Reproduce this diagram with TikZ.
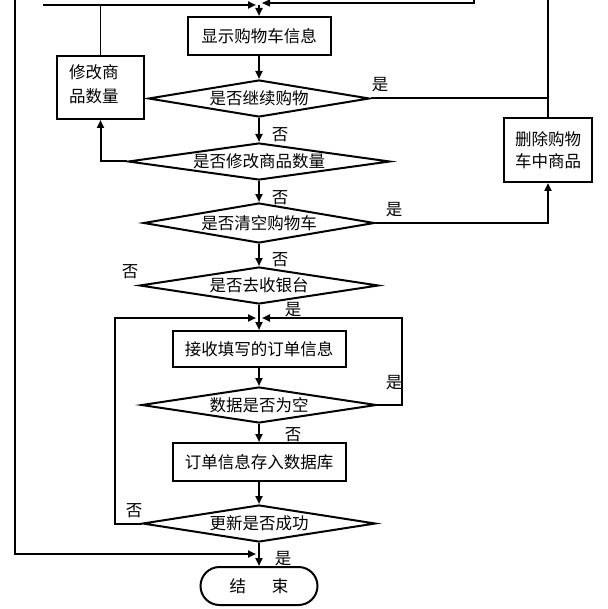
\documentclass[tikz,border=0pt]{standalone}
\usepackage{fontspec}
\setmainfont{Noto Sans CJK SC}
\usetikzlibrary{shapes.geometric,arrows.meta}
\newcommand{\cjkfs}{\fontsize{16.5pt}{22pt}\selectfont}
\begin{document}
\begin{tikzpicture}[x=1pt,y=-1pt,line width=2pt,
  box/.style={draw,rectangle,inner sep=0pt,font=\cjkfs,align=center},
  dia/.style={draw,diamond,inner sep=0pt},
  lab/.style={font=\cjkfs,inner sep=0pt},
  arr/.style={-{Triangle[length=8pt,width=7pt]}},
  thinline/.style={line width=1.2pt},
]
\useasboundingbox[fill=white] (0,0) rectangle (607,609);

% nodes
\node[box,minimum width=143pt,minimum height=38pt] (show) at (259,36) {显示购物车信息};
\node[box,minimum width=87pt,minimum height=63pt,
  label={[lab,align=left,anchor=west,font=\fontsize{16.5pt}{24pt}\selectfont,xshift=12pt,yshift=3pt]west:修改商\\品数量}] (mod) at (100.5,87.5) {};
\node[dia,minimum width=221pt,minimum height=37pt,label={[lab]center:是否继续购物}] (d1) at (259,98.5) {};
\node[box,minimum width=88pt,minimum height=64pt] (del) at (548,150) {删除购物\\车中商品};
\node[dia,minimum width=262pt,minimum height=37pt,label={[lab]center:是否修改商品数量}] (d2) at (259,161.5) {};
\node[dia,minimum width=231pt,minimum height=40pt,label={[lab]center:是否清空购物车}] (d3) at (259,223) {};
\node[dia,minimum width=239pt,minimum height=37pt,label={[lab]center:是否去收银台}] (d4) at (259,285.5) {};
\node[box,minimum width=173pt,minimum height=36pt] (recv) at (259,349) {接收填写的订单信息};
\node[dia,minimum width=235pt,minimum height=36pt,label={[lab]center:数据是否为空}] (d5) at (259,405) {};
\node[box,minimum width=173pt,minimum height=38pt] (store) at (259,462) {订单信息存入数据库};
\node[dia,minimum width=233pt,minimum height=37pt,label={[lab]center:更新是否成功}] (d6) at (259,523.5) {};
\node[box,rounded corners=19pt,minimum width=117pt,minimum height=38pt] (end) at (259,586) {结\hspace{26pt}束};

% free ends
\coordinate (tl) at (43,5);
\coordinate (jtl) at (256,5);
\coordinate (tr0) at (474,0);
\coordinate (tr1) at (474,3);
\coordinate (jtr) at (262,3);
\coordinate (lt) at (15,0);
\coordinate (lb) at (15,554);
\coordinate (jend) at (256,554);
\coordinate (rt) at (548,0);
\coordinate (ll) at (115,318);
\coordinate (jl) at (256,318);
\coordinate (rr) at (402,318);
\coordinate (jr) at (262,318);

% connectors
\draw[arr] (tl) -- (jtl);
\draw[thinline] (mod.north) -- (mod.north |- tl);
\draw[arr,thinline] (tr0) -- (tr1) -- (jtr);
\draw[arr] (show.north |- tl) -- (show.north);
\draw[arr] (lt) -- (lb) -- (jend);
\draw[arr] (show) -- (d1);
\draw[arr] (d1) -- (d2);
\draw[arr] (d2) -- (d3);
\draw[arr] (d3) -- (d4);
\draw[arr] (d2.west) -- (mod.south |- d2.west) -- (mod.south);
\draw (d1.east) -- (del.north |- d1.east);
\draw (del.north) -- (rt);
\draw[arr] (d3.east) -- (del.south |- d3.east) -- (del.south);
\draw[arr] (d4.south) -- (recv.north);
\draw[arr] (d6.west) -- (ll |- d6.west) -- (ll) -- (jl);
\draw[arr] (d5.east) -- (rr |- d5.east) -- (rr) -- (jr);
\draw[arr] (recv) -- (d5);
\draw[arr] (d5) -- (store);
\draw[arr] (store) -- (d6);
\draw[arr] (d6) -- (end);

% labels
\node[lab] (y1) at (380,85) {是};
\node[lab] (n1) at (280,135) {否};
\node[lab] (n2) at (280,198) {否};
\node[lab] (y2) at (394,210) {是};
\node[lab] (n3) at (280,260) {否};
\node[lab] (n4) at (130,272) {否};
\node[lab] (y3) at (293,310) {是};
\node[lab] (y4) at (394,383) {是};
\node[lab] (n5) at (293,435) {否};
\node[lab] (n6) at (134,511) {否};
\node[lab] (y5) at (283,559) {是};
\end{tikzpicture}
\end{document}
